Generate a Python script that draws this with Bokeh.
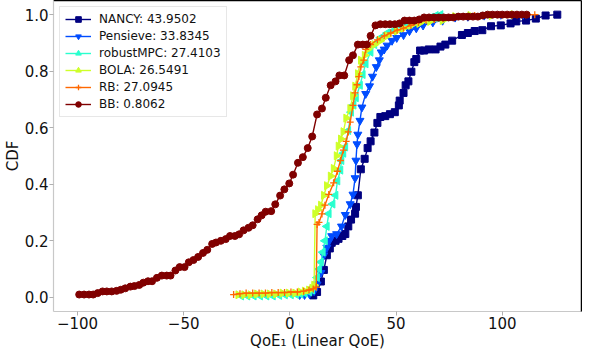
import math
from bokeh.plotting import figure
from bokeh.models import (Range1d, FixedTicker, Legend, LegendItem, LinearAxis,
                          PrintfTickFormatter, CustomJSTickFormatter)
from bokeh.embed import file_html
from bokeh.resources import INLINE

FONT = "DejaVu Sans"

# ---------------- data ----------------
x_ticks = [-100, -50, 0, 50, 100]
y_ticks = [0.0, 0.2, 0.4, 0.6, 0.8, 1.0]
x_title = "QoE\u2081 (Linear QoE)"
y_title = "CDF"

names = ["NANCY", "Pensieve", "robustMPC", "BOLA", "RB", "BB"]
scores = ["43.9502", "33.8345", "27.4103", "26.5491", "27.0945", "0.8062"]

nancy_x = [11.0, 12.8, 14.6, 16.0, 17.4, 18.8, 19.7, 21.5, 22.9, 24.7, 26.1, 27.5, 28.8,
           30.7, 31.1, 32.0, 33.4, 35.2, 36.6, 38.0, 39.8, 41.2, 42.6, 44.9, 47.1, 49.4,
           51.3, 51.7, 53.5, 54.5, 55.8, 57.2, 58.6, 59.5, 61.3, 63.2, 65.4, 68.6, 70.9,
           73.2, 76.4, 81.0, 83.8, 87.0, 90.6, 94.7, 99.3, 103.9, 106.6, 111.2, 115.8,
           120.4, 125.9]
nancy_y = [0.007, 0.019, 0.056, 0.097, 0.149, 0.173, 0.193, 0.200, 0.207, 0.217, 0.224,
           0.251, 0.275, 0.296, 0.320, 0.361, 0.453, 0.490, 0.528, 0.552, 0.583, 0.617,
           0.638, 0.641, 0.648, 0.655, 0.679, 0.696, 0.723, 0.750, 0.764, 0.798, 0.832,
           0.843, 0.873, 0.873, 0.877, 0.877, 0.887, 0.894, 0.908, 0.928, 0.935, 0.942,
           0.945, 0.959, 0.962, 0.969, 0.976, 0.979, 0.986, 0.997, 1.0]

pensieve_x = [4.6, 6.9, 9.2, 11.4, 12.8, 14.6, 16.0, 17.4, 18.5, 19.7, 22.0, 24.3, 26.1,
              28.4, 29.7, 30.7, 31.1, 31.6, 32.0, 33.0, 33.9, 35.7, 37.5, 38.9, 40.7, 42.1,
              43.0, 44.4, 45.8, 48.1, 50.3, 53.5, 56.3, 59.5, 62.7, 67.3, 71.9, 77.8, 83.8,
              91.5, 99.3, 109.8]
pensieve_y = [0.009, 0.009, 0.012, 0.022, 0.046, 0.087, 0.149, 0.176, 0.200, 0.217, 0.224,
              0.251, 0.292, 0.330, 0.364, 0.422, 0.484, 0.542, 0.576, 0.625, 0.672, 0.720,
              0.747, 0.781, 0.815, 0.839, 0.867, 0.877, 0.891, 0.908, 0.918, 0.928, 0.942,
              0.952, 0.962, 0.973, 0.979, 0.990, 0.993, 0.997, 1.0, 1.0]

robustmpc_x = [-22.9, -20.0, -17.0, -14.0, -11.0, -8.0, -5.0, -2.3, 0.5, 3.0, 5.0, 7.0, 9.2,
               10.5, 11.4, 12.8, 13.7, 14.6, 15.5, 16.5, 17.4, 18.3, 20.1, 21.5, 22.4, 23.8,
               24.3, 25.2, 26.1, 27.5, 28.8, 30.0, 31.1, 33.0, 34.3, 35.7, 38.0, 39.8, 42.6,
               45.8, 49.0, 52.6, 56.0, 59.5, 63.0, 66.4, 68.7, 70.9]
robustmpc_y = [0.005, 0.005, 0.005, 0.005, 0.005, 0.005, 0.007, 0.009, 0.009, 0.010, 0.012,
               0.015, 0.019, 0.026, 0.039, 0.070, 0.100, 0.125, 0.160, 0.200, 0.251, 0.296,
               0.330, 0.361, 0.412, 0.450, 0.484, 0.510, 0.532, 0.590, 0.655, 0.680, 0.706,
               0.750, 0.788, 0.826, 0.867, 0.894, 0.918, 0.935, 0.945, 0.959, 0.966, 0.973,
               0.983, 0.990, 0.997, 1.0]

bola_x = [-24.3, -21.5, -18.5, -15.5, -12.5, -9.5, -6.5, -3.5, -0.5, 2.5, 5.0, 7.0, 9.0,
          10.5, 11.4, 11.9, 13.2, 14.6, 16.0, 17.4, 19.2, 20.6, 22.0, 22.9, 24.0, 25.2,
          26.5, 28.4, 29.7, 30.7, 32.0, 33.4, 35.2, 36.6, 39.8, 42.6, 45.8, 50.3, 53.5,
          57.0, 60.9, 66.0, 71.9, 77.8, 85.0, 95.0, 105.3]
bola_y = [0.009, 0.009, 0.009, 0.012, 0.012, 0.012, 0.012, 0.015, 0.015, 0.015, 0.019,
          0.022, 0.026, 0.032, 0.043, 0.296, 0.310, 0.326, 0.361, 0.395, 0.429, 0.456,
          0.501, 0.535, 0.560, 0.586, 0.634, 0.668, 0.713, 0.747, 0.791, 0.839, 0.856,
          0.877, 0.894, 0.908, 0.925, 0.942, 0.952, 0.962, 0.969, 0.976, 0.979, 0.993,
          0.997, 0.997, 1.0]

rb_x = [-26.5, -23.5, -20.6, -17.5, -14.5, -11.5, -8.5, -5.5, -2.5, 0.5, 3.5, 6.5, 9.0,
        11.0, 12.4, 12.8, 13.7, 15.1, 16.5, 18.3, 20.6, 22.4, 23.8, 25.2, 26.5, 27.5,
        28.4, 29.7, 30.7, 31.6, 32.5, 33.4, 34.8, 35.7, 38.0, 41.2, 44.4, 47.5, 50.5,
        53.5, 57.0, 60.5, 64.1, 68.0, 72.0, 75.5, 79.2, 83.0, 87.0, 91.0, 94.7, 99.0,
        103.0, 107.0, 111.0, 115.3]
rb_y = [0.010, 0.013, 0.015, 0.015, 0.015, 0.015, 0.017, 0.017, 0.017, 0.019, 0.019,
        0.022, 0.026, 0.030, 0.036, 0.258, 0.265, 0.295, 0.326, 0.364, 0.405, 0.446,
        0.484, 0.521, 0.552, 0.585, 0.620, 0.679, 0.723, 0.752, 0.781, 0.815, 0.839,
        0.877, 0.894, 0.911, 0.925, 0.935, 0.945, 0.952, 0.962, 0.972, 0.979, 0.983,
        0.986, 0.990, 0.993, 0.993, 0.997, 0.997, 1.0, 1.0, 1.0, 1.0, 1.0, 1.0]

bb_x = [-99.2, -96.9, -94.6, -92.6, -90.5, -88.2, -86.2, -83.9, -81.6, -79.6, -77.5,
        -75.1, -73.2, -70.9, -69.0, -66.8, -64.9, -62.6, -60.3, -58.0, -56.2, -53.9,
        -51.9, -49.6, -47.6, -45.4, -43.2, -40.9, -38.9, -36.6, -34.8, -32.5, -30.2,
        -28.2, -25.9, -23.9, -21.8, -19.5, -17.5, -15.2, -13.3, -11.4, -8.8, -6.9, -4.6,
        -2.6, -0.3, 1.5, 3.8, 6.1, 8.4, 10.5, 12.8, 15.1, 16.9, 19.2, 21.5, 23.3, 25.6,
        27.9, 29.7, 32.0, 34.3, 36.2, 38.0, 40.3, 42.6, 44.9, 47.1, 49.4, 51.7, 54.0,
        56.3, 58.6, 60.9, 63.2, 65.5, 67.8, 70.1, 72.4, 74.7, 77.0, 79.3, 81.6, 83.9,
        86.2, 88.5, 90.8, 93.1, 95.4, 97.7, 100.0, 102.3, 104.6, 106.9, 109.2, 111.5]
bb_y = [0.010, 0.010, 0.010, 0.010, 0.015, 0.021, 0.021, 0.021, 0.023, 0.027, 0.032,
        0.038, 0.040, 0.044, 0.052, 0.057, 0.057, 0.069, 0.077, 0.077, 0.077, 0.095,
        0.107, 0.107, 0.124, 0.132, 0.143, 0.157, 0.168, 0.189, 0.194, 0.200, 0.206,
        0.217, 0.217, 0.223, 0.237, 0.246, 0.255, 0.276, 0.290, 0.303, 0.305, 0.329,
        0.360, 0.382, 0.403, 0.434, 0.476, 0.496, 0.528, 0.569, 0.647, 0.668, 0.706,
        0.750, 0.764, 0.785, 0.785, 0.839, 0.856, 0.894, 0.894, 0.894, 0.925, 0.962,
        0.966, 0.966, 0.966, 0.966, 0.969, 0.979, 0.979, 0.979, 0.983, 0.990, 0.990,
        0.990, 0.990, 0.990, 0.990, 0.990, 0.993, 0.993, 0.993, 0.993, 0.993, 0.997,
        1.0, 1.0, 1.0, 1.0, 1.0, 1.0, 1.0, 1.0, 1.0]

series_x = [nancy_x, pensieve_x, robustmpc_x, bola_x, rb_x, bb_x]
series_y = [nancy_y, pensieve_y, robustmpc_y, bola_y, rb_y, bb_y]

# ---------------- styles ----------------
colors = ["#000080", "#004cff", "#29ffce", "#ceff29", "#ff6800", "#800000"]
markers = ["square", "inverted_triangle", "triangle", "triangle", "cross", "circle"]
angles = [0, 0, math.pi / 2, -math.pi / 2, 0, 0]
msizes = [7, 8, 8, 8, 7, 7]

p = figure(width=582, height=352, output_backend="svg", toolbar_location=None,
           x_range=Range1d(-111.3, 137.3), y_range=Range1d(-0.05, 1.05),
           min_border_left=0, min_border_right=1, min_border_top=0,
           min_border_bottom=0)

p.background_fill_color = "white"
p.border_fill_color = "white"
p.outline_line_color = None
p.xgrid.visible = False
p.ygrid.visible = False

items = []
for i in range(6):
    lr = p.line(series_x[i], series_y[i], line_color=colors[i], line_width=1.4)
    sr = p.scatter(series_x[i], series_y[i], marker=markers[i], size=msizes[i],
                   angle=angles[i], angle_units="rad",
                   fill_color=colors[i], line_color=colors[i],
                   line_width=1.3 if markers[i] == "cross" else 1)
    items.append(LegendItem(label=f"{names[i]}: {scores[i]}", renderers=[lr, sr]))

legend = Legend(items=items, location="top_left")
legend.margin = 6
legend.padding = 5
legend.spacing = 3
legend.glyph_height = 14
legend.glyph_width = 26
legend.label_standoff = 8
legend.label_height = 14
legend.label_text_font = FONT
legend.label_text_font_size = "12px"
legend.label_text_color = "#111111"
legend.border_line_color = "#d0d0d0"
legend.border_line_width = 1
legend.background_fill_alpha = 0.8
p.add_layout(legend)

for ax in (p.xaxis, p.yaxis):
    ax.axis_line_color = "#c8c8c8"
    ax.axis_line_width = 1.2
    ax.major_tick_line_color = "#b0b0b0"
    ax.major_tick_out = 4
    ax.major_tick_in = 0
    ax.minor_tick_line_color = None
    ax.major_label_text_font = FONT
    ax.major_label_text_font_size = "15px"
    ax.major_label_text_color = "#111111"
    ax.axis_label_text_font = FONT
    ax.axis_label_text_font_size = "15px"
    ax.axis_label_text_font_style = "normal"
    ax.axis_label_text_color = "#111111"
    ax.major_label_standoff = 1
    ax.axis_label_standoff = 0

p.xaxis.axis_label = x_title
p.yaxis.axis_label = y_title

p.xaxis.ticker = FixedTicker(ticks=x_ticks)
p.xaxis.formatter = CustomJSTickFormatter(
    code="return tick < 0 ? '\\u2212' + Math.abs(tick) : String(tick);")
p.yaxis.ticker = FixedTicker(ticks=y_ticks)
p.yaxis.formatter = PrintfTickFormatter(format="%.1f")

# black top and right spines (no ticks, no labels)
for place in ("above", "right"):
    sp = LinearAxis(axis_line_color="black", axis_line_width=1.5,
                    major_tick_line_color=None, minor_tick_line_color=None,
                    major_label_text_font_size="0px", major_label_standoff=0,
                    major_tick_out=0, major_tick_in=0,
                    ticker=FixedTicker(ticks=[]))
    p.add_layout(sp, place)

open("out.html", "w").write(file_html(p, INLINE))
